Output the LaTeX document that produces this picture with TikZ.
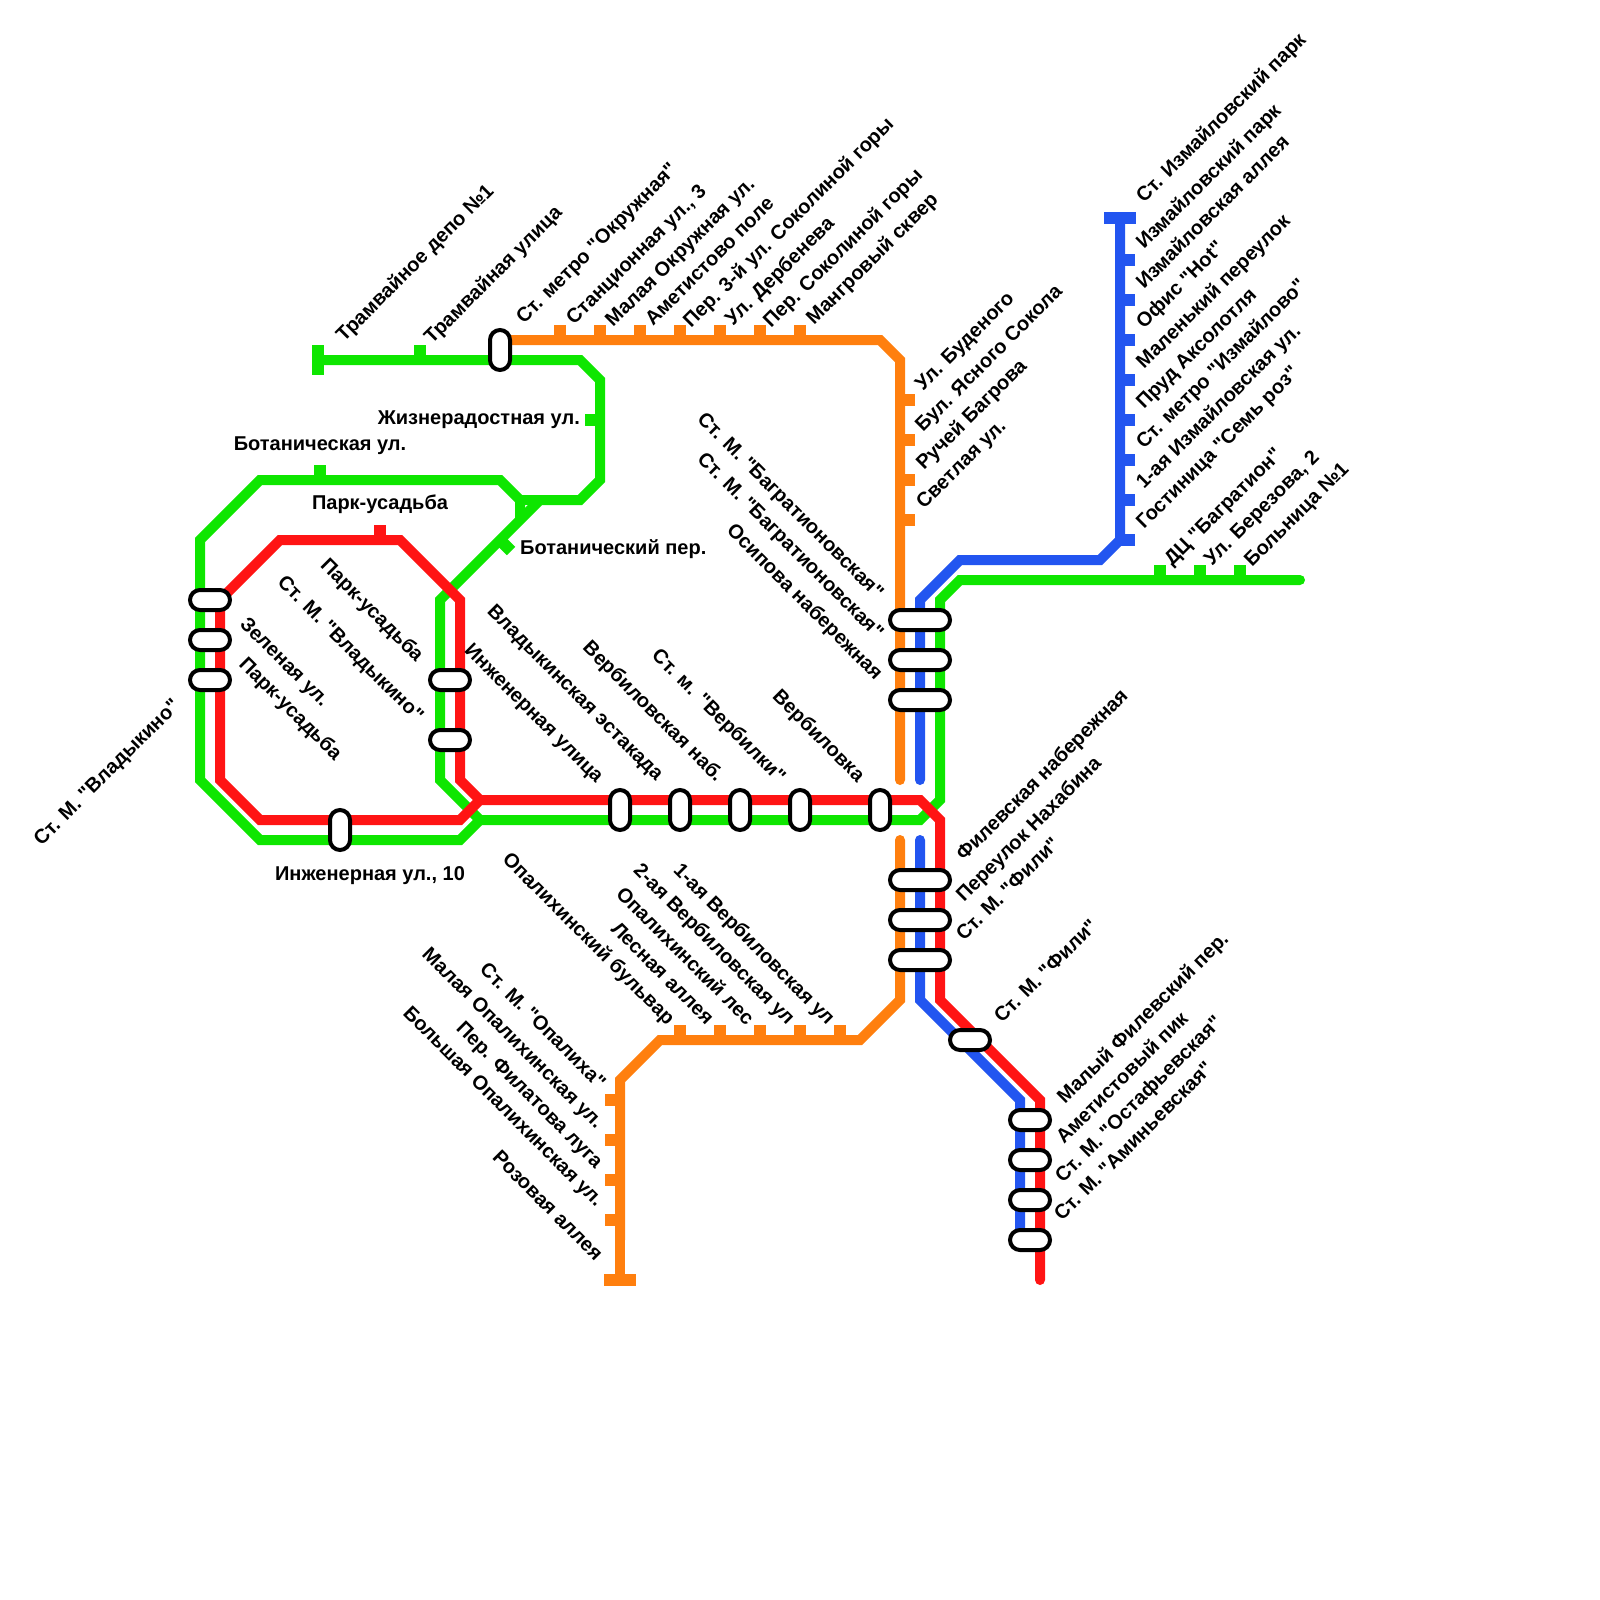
\documentclass[tikz,border=0pt]{standalone}
\usepackage{fontspec}
\newfontfamily\lf{Liberation Sans}
\definecolor{lorange}{HTML}{FF7F0E}
\definecolor{lgreen}{HTML}{0EE600}
\definecolor{lred}{HTML}{FF1414}
\definecolor{lblue}{HTML}{2255F0}
\newcounter{lbl}
\tikzset{
 line/.style={line width=10pt,line join=miter,miter limit=10},
 tick/.style={line width=12pt},
 pillh/.style={draw=black,fill=white,line width=4pt,rounded corners=10pt,minimum width=40pt,minimum height=20pt,inner sep=0pt},
 pillv/.style={draw=black,fill=white,line width=4pt,rounded corners=10pt,minimum width=20pt,minimum height=40pt,inner sep=0pt},
 pillw/.style={draw=black,fill=white,line width=4pt,rounded corners=10pt,minimum width=60pt,minimum height=20pt,inner sep=0pt},
 lab/.style={inner sep=0pt,font=\lf\bfseries\fontsize{20}{20}\selectfont,text=black},
}
\newcommand{\lu}[3]{\stepcounter{lbl}\node[lab,rotate=45,anchor=base west] (t\thelbl) at (#1,#2) {#3};}
\newcommand{\lue}[3]{\stepcounter{lbl}\node[lab,rotate=45,anchor=base east] (t\thelbl) at (#1,#2) {#3};}
\newcommand{\ld}[3]{\stepcounter{lbl}\node[lab,rotate=-45,anchor=base west] (t\thelbl) at (#1,#2) {#3};}
\newcommand{\lde}[3]{\stepcounter{lbl}\node[lab,rotate=-45,anchor=base east] (t\thelbl) at (#1,#2) {#3};}
\newcommand{\lh}[4]{\stepcounter{lbl}\node[lab,anchor=#1] (t\thelbl) at (#2,#3) {#4};}
\begin{document}
\begin{tikzpicture}[x=1pt,y=-1pt]
\useasboundingbox (0,0) rectangle (1600,1600);
% orange
\foreach \x in {560,600,...,800} \draw[tick,lorange] (\x,325) -- (\x,340);
\foreach \y in {400,440,480,520} \draw[tick,lorange] (900,\y) -- (915,\y);
\foreach \x in {680,720,...,840} \draw[tick,lorange] (\x,1025) -- (\x,1040);
\foreach \y in {1100,1140,1180,1220} \draw[tick,lorange] (605,\y) -- (620,\y);
\draw[line,lorange,line cap=round] (500,340) -- (880,340) -- (900,360) -- (900,780);
\draw[line,lorange,line cap=round] (900,840) -- (900,1000) -- (860,1040) -- (660,1040) -- (620,1080) -- (620,1240);
\draw[line,lorange] (620,1240) -- (620,1280);
\draw[tick,lorange] (604,1280) -- (636,1280);
% blue
\foreach \y in {260,300,...,540} \draw[tick,lblue] (1120,\y) -- (1135,\y);
\draw[line,lblue,line cap=round] (1120,220) -- (1120,540) -- (1100,560) -- (960,560) -- (920,600) -- (920,780);
\draw[line,lblue,line cap=round] (920,840) -- (920,1000) -- (1020,1100) -- (1020,1240);
\draw[tick,lblue] (1104,218) -- (1136,218);
% green
\foreach \x in {1160,1200,1240} \draw[tick,lgreen] (\x,565) -- (\x,580);
\draw[tick,lgreen] (420,345) -- (420,360);
\draw[tick,lgreen] (320,465) -- (320,480);
\draw[tick,lgreen] (585,420) -- (600,420);
\draw[tick,lgreen] (500,540) -- (511,551);
\draw[tick,lgreen] (318,345) -- (318,375);
\draw[line,lgreen,line cap=round] (320,360) -- (580,360) -- (600,380) -- (600,480) -- (580,500) -- (540,500) -- (440,600) -- (440,780) -- (480,820) -- (920,820) -- (940,800) -- (940,600) -- (960,580) -- (1300,580);
\draw[line,lgreen] (520,520) -- (520,500) -- (500,480) -- (260,480) -- (200,540) -- (200,780) -- (260,840) -- (460,840) -- (480,820);
\draw[line,lgreen] (520,500) -- (540,500);
% red
\draw[tick,lred] (380,525) -- (380,540);
\draw[line,lred,line cap=round] (480,800) -- (460,820) -- (260,820) -- (220,780) -- (220,600) -- (280,540) -- (400,540) -- (460,600) -- (460,780) -- (480,800) -- (920,800) -- (940,820) -- (940,1000) -- (1040,1100) -- (1040,1280);
% stations
\node[pillv] (s1) at (500,350) {};
\node[pillv] (s2) at (340,830) {};
\foreach \x/\n in {620/a,680/b,740/c,800/d,880/e} \node[pillv] (r\n) at (\x,810) {};
\foreach \y/\n in {600/a,640/b,680/c} \node[pillh] (l\n) at (210,\y) {};
\foreach \y/\n in {680/a,740/b} \node[pillh] (m\n) at (450,\y) {};
\foreach \y/\n in {620/a,660/b,700/c,880/d,920/e,960/f} \node[pillw] (w\n) at (920,\y) {};
\node[pillh] (f1) at (970,1040) {};
\foreach \y/\n in {1120/a,1160/b,1200/c,1240/d} \node[pillh] (z\n) at (1030,\y) {};
% horizontal labels
\lh{base}{320}{450}{Ботаническая ул.}
\lh{base}{380}{509}{Парк-усадьба}
\lh{base}{370}{880}{Инженерная ул., 10}
\lh{base east}{580}{424}{Жизнерадостная ул.}
\lh{base west}{520}{554}{Ботанический пер.}
% up-right
\lu{344}{343}{Трамвайное депо №1}
\lu{432}{345}{Трамвайная улица}
\lu{524}{325}{Ст. метро "Окружная"}
\lu{574}{326}{Станционная ул., 3}
\lu{613}{328}{Малая Окружная ул.}
\lu{653}{327}{Аметистово поле}
\lu{691}{329}{Пер. 3-й ул. Соколиной горы}
\lu{733}{327}{Ул. Дербенева}
\lu{771}{329}{Пер. Соколиной горы}
\lu{814}{326}{Мангровый сквер}
\lu{923}{392}{Ул. Буденого}
\lu{923}{433}{Бул. Ясного Сокола}
\lu{924}{471}{Ручей Багрова}
\lu{924}{510}{Светлая ул.}
\lu{1144}{204}{Ст. Измайловский парк}
\lu{1144}{250}{Измайловский парк}
\lu{1144}{290}{Измайловская аллея}
\lu{1144}{330}{Офис "Hot"}
\lu{1144}{370}{Маленький переулок}
\lu{1144}{410}{Пруд Аксолотля}
\lu{1144}{450}{Ст. метро "Измайлово"}
\lu{1144}{490}{1-ая Измайловская ул.}
\lu{1144}{530}{Гостиница "Семь роз"}
\lu{1172}{567}{ДЦ "Багратион"}
\lu{1212}{567}{Ул. Березова, 2}
\lu{1252}{568}{Больница №1}
\lu{964}{862}{Филевская набережная}
\lu{964}{903}{Переулок Нахабина}
\lu{964}{942}{Ст. М. "Фили"}
\lu{1002}{1024}{Ст. М. "Фили"}
\lu{1065}{1105}{Малый Филевский пер.}
\lu{1064}{1145}{Аметистовый пик}
\lu{1063}{1184}{Ст. М. "Остафьевская"}
\lu{1062}{1222}{Ст. М. "Аминьевская"}
\lue{181}{707}{Ст. М. "Владыкино"}
% down-right, end anchored
\lde{876}{600}{Ст. М. "Багратионовская"}
\lde{876}{640}{Ст. М. "Багратионовская"}
\lde{875}{681}{Осипова набережная}
\lde{857}{783}{Вербиловка}
\lde{778}{784}{Ст. м. "Вербилки"}
\lde{716}{783}{Вербиловская наб.}
\lde{656}{782}{Владыкинская эстакада}
\lde{596}{784}{Инженерная улица}
\lde{416}{663}{Парк-усадьба}
\lde{416}{723}{Ст. М. "Владыкино"}
\ld{239}{625}{Зеленая ул.}
\ld{238}{665}{Парк-усадьба}
\lde{827}{1026}{1-ая Вербиловская ул}
\lde{787}{1026}{2-ая Вербиловская ул}
\lde{746}{1026}{Опалихинский лес}
\lde{706}{1026}{Лесная аллея}
\lde{667}{1026}{Опалихинский бульвар}
\lde{598}{1090}{Ст. М. "Опалиха"}
\lde{596}{1130}{Малая Опалихинская ул.}
\lde{595}{1169}{Пер. Филатова луга}
\lde{596}{1208}{Большая Опалихинская ул.}
\lde{595}{1262}{Розовая аллея}
\end{tikzpicture}
\end{document}
